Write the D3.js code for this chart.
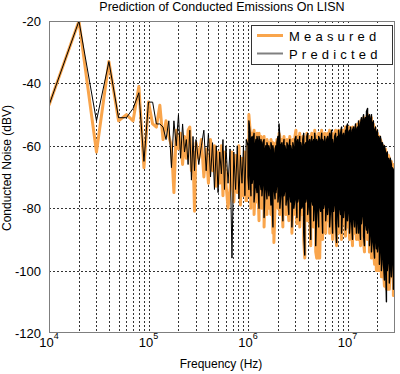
<!DOCTYPE html>
<html>
<head>
	<title></title>
	<script type="text/javascript" src="https://cdn.jsdelivr.net/npm/d3@7"></script>
	<style>
		body { margin: 0; background: #fff; }
		text { font-family: "Liberation Sans", Arial, sans-serif; fill: #000; }
	</style>
</head>
<body>

<div id='plot'></div>

<script type="text/javascript">

// harmonics below 1 MHz, kHz
var freq_khz = [
	10, 20, 30, 40, 50, 60, 70, 80, 90,
	100, 110, 120, 130, 140, 150, 160, 170, 180, 190, 200, 210, 220, 230, 240, 250, 260, 270, 280, 290, 300,
	320, 340, 360, 380, 400, 420, 440, 460, 480, 500, 520, 540, 560, 580, 600,
	630, 660, 690, 720, 750, 780, 810, 840, 870, 900, 930, 960
];

// dBV
var measured = [
	-47, -20, -62, -33, -52, -50, -52, -41, -67,
	-46, -53, -54, -47, -58, -52, -57, -60, -75, -55, -61, -56, -66, -57, -64, -55, -54, -68, -62, -81, -59,
	-64, -58, -70, -61, -72, -58, -68, -60, -73, -62, -72, -60, -76, -62, -72,
	-80, -74, -62, -78, -63, -75, -60, -79, -64, -76, -62, -78
];

var predicted = [
	-47, -20, -52, -33, -51, -51, -48, -43, -65,
	-46, -46, -53, -53, -54, -58, -52, -67, -52, -60, -50, -64, -53, -62, -58, -66, -55, -71, -57, -68, -58,
	-66, -60, -55, -68, -56, -70, -59, -74, -60, -75, -62, -69, -58, -74, -60,
	-72, -61, -96, -62, -74, -60, -77, -63, -72, -60, -76, -58
];

// above 1 MHz the harmonics are too dense to read one by one:
// max / min of each trace, read column by column, kHz
var dense_khz = [
	1000, 1020, 1050, 1070, 1100, 1120, 1150, 1180, 1200, 1230,
	1260, 1290, 1320, 1350, 1380, 1410, 1450, 1480, 1510, 1550,
	1590, 1620, 1660, 1700, 1740, 1780, 1820, 1870, 1910, 1950,
	2000, 2050, 2090, 2140, 2190, 2240, 2300, 2350, 2410, 2460,
	2510, 2570, 2630, 2690, 2760, 2820, 2890, 2960, 3030, 3100,
	3160, 3240, 3310, 3390, 3470, 3550, 3630, 3720, 3810, 3900,
	3980, 4070, 4170, 4270, 4370, 4470, 4570, 4680, 4790, 4900,
	5010, 5130, 5250, 5370, 5500, 5620, 5760, 5890, 6030, 6170,
	6310, 6460, 6610, 6760, 6920, 7080, 7240, 7410, 7590, 7760,
	7940, 8130, 8320, 8510, 8710, 8910, 9120, 9330, 9550, 9770,
	10000, 10230, 10470, 10720, 10970, 11220, 11490, 11760, 12030, 12310,
	12600, 12900, 13200, 13500, 13800, 14100, 14500, 14800, 15100, 15500,
	15900, 16200, 16600, 17000, 17400, 17800, 18200, 18700, 19100, 19500,
	20000, 20500, 20900, 21400, 21900, 22400, 23000, 23500, 24100, 24600,
	25100, 25700, 26300, 26900, 27600, 28200, 28900, 29600
];

var measured_hi = [
	-58, -50, -55, -57, -56, -58, -55, -59, -57, -56,
	-58, -56, -59, -57, -60, -58, -57, -61, -59, -58,
	-60, -59, -61, -58, -60, -59, -62, -60, -59, -58,
	-58, -56, -57, -59, -58, -60, -57, -59, -61, -58,
	-59, -60, -57, -59, -61, -58, -60, -57, -55, -58,
	-57, -59, -56, -58, -60, -57, -57, -59, -58, -56,
	-57, -58, -57, -59, -56, -58, -57, -55, -59, -57,
	-58, -56, -57, -59, -55, -57, -58, -56, -59, -57,
	-56, -58, -55, -57, -56, -57, -59, -56, -55, -57,
	-56, -55, -57, -55, -55, -56, -55, -57, -54, -55,
	-54, -55, -54, -55, -56, -54, -55, -55, -54, -54,
	-53, -53, -54, -52, -52, -52, -51, -53, -52, -51,
	-50, -52, -51, -52, -51, -53, -53, -54, -55, -56,
	-56, -57, -57, -58, -59, -60, -60, -61, -61, -62,
	-63, -63, -64, -65, -65, -66, -66, -67
];

var measured_lo = [
	-72, -76, -70, -80, -74, -72, -82, -75, -73, -78,
	-74, -84, -73, -76, -80, -74, -86, -76, -73, -82,
	-75, -80, -74, -82, -76, -88, -91, -79, -77, -74,
	-80, -76, -82, -77, -75, -86, -78, -76, -82, -77,
	-79, -84, -77, -80, -88, -78, -82, -79, -77, -85,
	-80, -78, -86, -79, -82, -81, -90, -96, -80, -78,
	-84, -80, -82, -92, -79, -81, -86, -80, -94, -96,
	-96, -88, -96, -83, -79, -90, -82, -80, -88, -81,
	-84, -80, -88, -82, -81, -90, -83, -80, -86, -92,
	-82, -88, -81, -84, -90, -82, -85, -81, -89, -83,
	-86, -82, -90, -84, -86, -92, -84, -88, -86, -90,
	-85, -90, -86, -92, -87, -84, -91, -94, -86, -89,
	-90, -87, -94, -89, -96, -90, -93, -98, -91, -100,
	-100, -92, -100, -94, -102, -97, -100, -105, -98, -106,
	-106, -98, -106, -100, -102, -98, -108, -101
];

var predicted_hi = [
	-60, -52, -56, -58, -57, -59, -56, -60, -58, -57,
	-59, -57, -60, -58, -61, -59, -58, -62, -60, -59,
	-61, -60, -62, -59, -61, -60, -63, -61, -60, -59,
	-57, -53, -58, -60, -59, -61, -58, -60, -62, -59,
	-60, -61, -58, -60, -62, -59, -61, -58, -57, -59,
	-58, -60, -57, -59, -61, -58, -56, -60, -59, -57,
	-56, -59, -58, -60, -57, -59, -58, -56, -60, -58,
	-59, -57, -58, -60, -56, -58, -59, -57, -60, -58,
	-57, -59, -56, -58, -55, -58, -60, -57, -56, -58,
	-57, -55, -58, -56, -54, -57, -56, -58, -55, -54,
	-53, -56, -55, -54, -57, -55, -54, -56, -53, -55,
	-54, -52, -55, -53, -51, -53, -50, -52, -51, -49,
	-48, -51, -50, -52, -50, -53, -52, -55, -54, -56,
	-55, -57, -58, -57, -60, -59, -61, -60, -62, -63,
	-62, -64, -65, -64, -66, -67, -68, -67
];

var predicted_lo = [
	-70, -74, -68, -76, -72, -70, -78, -73, -71, -75,
	-72, -80, -71, -74, -76, -72, -83, -74, -71, -77,
	-73, -76, -72, -79, -74, -86, -73, -77, -75, -72,
	-78, -74, -80, -75, -73, -84, -76, -74, -79, -75,
	-77, -82, -75, -78, -86, -76, -80, -77, -75, -83,
	-78, -76, -84, -77, -80, -79, -88, -95, -78, -76,
	-82, -78, -80, -90, -77, -79, -84, -78, -92, -80,
	-78, -86, -79, -81, -77, -88, -80, -78, -84, -79,
	-82, -78, -86, -80, -79, -88, -81, -78, -84, -91,
	-80, -86, -79, -82, -88, -80, -83, -79, -87, -81,
	-84, -80, -88, -82, -84, -90, -82, -86, -81, -88,
	-83, -88, -84, -90, -85, -82, -89, -92, -84, -87,
	-88, -85, -92, -87, -94, -88, -91, -96, -89, -93,
	-94, -90, -98, -92, -100, -95, -98, -103, -96, -110,
	-100, -96, -104, -98, -102, -96, -106, -99
];

var y_ticks = [-120, -100, -80, -60, -40, -20];
var x_decades = [4, 5, 6, 7];
var series_names = ['Measured', 'Predicted'];
var series_cols = ['#f9a54c', '#000000'];

var width = 400, height = 374;
var m_left = 49, m_right = 395, m_top = 21, m_bottom = 333;

var x = d3.scaleLog().domain([1e4, 3e7]).range([m_left, m_right]);
var y = d3.scaleLinear().domain([-120, -20]).range([m_bottom, m_top]);

var svg = d3.select('#plot').append('svg')
	.attr('width', width)
	.attr('height', height);

// grid
var x_grid = [];
x_decades.forEach(function(e){
	for (var m = 1; m < 10; m++) {
		var v = m * Math.pow(10, e);
		if (v > 1e4 && v < 3e7) x_grid.push(v);
	}
});

svg.selectAll('.vgrid').data(x_grid)
	.enter().append('line').classed('vgrid', true)
		.attr('x1', function(d){ return Math.round(x(d)) + 0.5; })
		.attr('x2', function(d){ return Math.round(x(d)) + 0.5; })
		.attr('y1', m_top)
		.attr('y2', m_bottom)
		.style('stroke', '#333')
		.style('stroke-width', 1)
		.style('stroke-dasharray', '2,2');

svg.selectAll('.hgrid').data(y_ticks.slice(1, -1))
	.enter().append('line').classed('hgrid', true)
		.attr('x1', m_left)
		.attr('x2', m_right)
		.attr('y1', function(d){ return Math.round(y(d)) + 0.5; })
		.attr('y2', function(d){ return Math.round(y(d)) + 0.5; })
		.style('stroke', '#333')
		.style('stroke-width', 1)
		.style('stroke-dasharray', '2,2');

// data
svg.append('clipPath').attr('id', 'clip')
	.append('rect')
		.attr('x', m_left).attr('y', m_top)
		.attr('width', m_right - m_left).attr('height', m_bottom - m_top);

var line = d3.line()
	.x(function(d){ return x(d.f); })
	.y(function(d){ return y(d.v); });

function single_points(vals){
	return freq_khz.map(function(f, i){ return {f: f * 1e3, v: vals[i]}; });
}

// one max-min stroke per dense column, joined on from the last single point
function dense_points(vals, hi, lo){
	var last = freq_khz.length - 1;
	var pts = [{f: freq_khz[last] * 1e3, v: vals[last]}];
	dense_khz.forEach(function(f, i){
		var a = {f: f * 1e3, v: hi[i]}, b = {f: f * 1e3, v: lo[i]};
		if (i % 2 == 0) pts.push(a, b);
		else pts.push(b, a);
	});
	return pts;
}

var traces = [
	{name: 'Measured', single: single_points(measured), dense: dense_points(measured, measured_hi, measured_lo)},
	{name: 'Predicted', single: single_points(predicted), dense: dense_points(predicted, predicted_hi, predicted_lo)}
];

var g = svg.append('g').attr('clip-path', 'url(#clip)');

traces.forEach(function(t, i){
	var w = i == 0 ? 3 : 1;
	g.append('path').datum(t.single)
		.attr('d', line)
		.style('fill', 'none')
		.style('stroke', series_cols[i])
		.style('stroke-width', w)
		.style('stroke-linejoin', 'round');
	g.append('path').datum(t.dense)
		.attr('d', line)
		.style('fill', 'none')
		.style('stroke', series_cols[i])
		.style('stroke-width', i == 0 ? 3 : 1.4)
		.style('stroke-linejoin', 'round');
});

// box
svg.append('rect')
	.attr('x', m_left + 0.5).attr('y', m_top + 0.5)
	.attr('width', m_right - m_left - 1).attr('height', m_bottom - m_top - 1)
	.style('fill', 'none')
	.style('stroke', '#7f7f7f')
	.style('stroke-width', 1);

// tick labels
svg.selectAll('.ylab').data(y_ticks)
	.enter().append('text').classed('ylab', true)
		.attr('x', 41)
		.attr('y', function(d){ return y(d) + 5; })
		.attr('text-anchor', 'end')
		.style('font-size', '13px')
		.text(function(d){ return d; });

var xl = svg.selectAll('.xlab').data(x_decades)
	.enter().append('text').classed('xlab', true)
		.attr('x', function(d){ return x(Math.pow(10, d)); })
		.attr('y', 347)
		.attr('text-anchor', 'middle')
		.style('font-size', '13px');
xl.append('tspan').text('10');
xl.append('tspan')
	.attr('dy', -8)
	.style('font-size', '9px')
	.text(function(d){ return d; });

// titles
svg.append('text')
	.attr('x', (m_left + m_right) / 2)
	.attr('y', 11)
	.attr('text-anchor', 'middle')
	.style('font-size', '12.5px')
	.text('Prediction of Conducted Emissions On LISN');

svg.append('text')
	.attr('x', (m_left + m_right) / 2 - 1)
	.attr('y', 368)
	.attr('text-anchor', 'middle')
	.style('font-size', '12px')
	.text('Frequency (Hz)');

svg.append('text')
	.attr('transform', 'translate(11,168) rotate(-90)')
	.attr('text-anchor', 'middle')
	.style('font-size', '12px')
	.text('Conducted Noise (dBV)');

// legend
var leg = svg.append('g').attr('transform', 'translate(251,25)');

leg.append('rect')
	.attr('x', 0.5).attr('y', 0.5)
	.attr('width', 141).attr('height', 39)
	.style('fill', '#fff')
	.style('stroke', '#333')
	.style('stroke-width', 1);

series_names.forEach(function(name, i){
	leg.append('line')
		.attr('x1', 6).attr('x2', 32)
		.attr('y1', 10.5 + i * 18).attr('y2', 10.5 + i * 18)
		.style('stroke', i == 0 ? series_cols[0] : '#808080')
		.style('stroke-width', i == 0 ? 3 : 2);
	leg.append('text')
		.attr('x', 38)
		.attr('y', 15.5 + i * 18)
		.style('font-size', '13px')
		.style('letter-spacing', '4.2px')
		.text(name);
});

</script>

</body>
</html>
